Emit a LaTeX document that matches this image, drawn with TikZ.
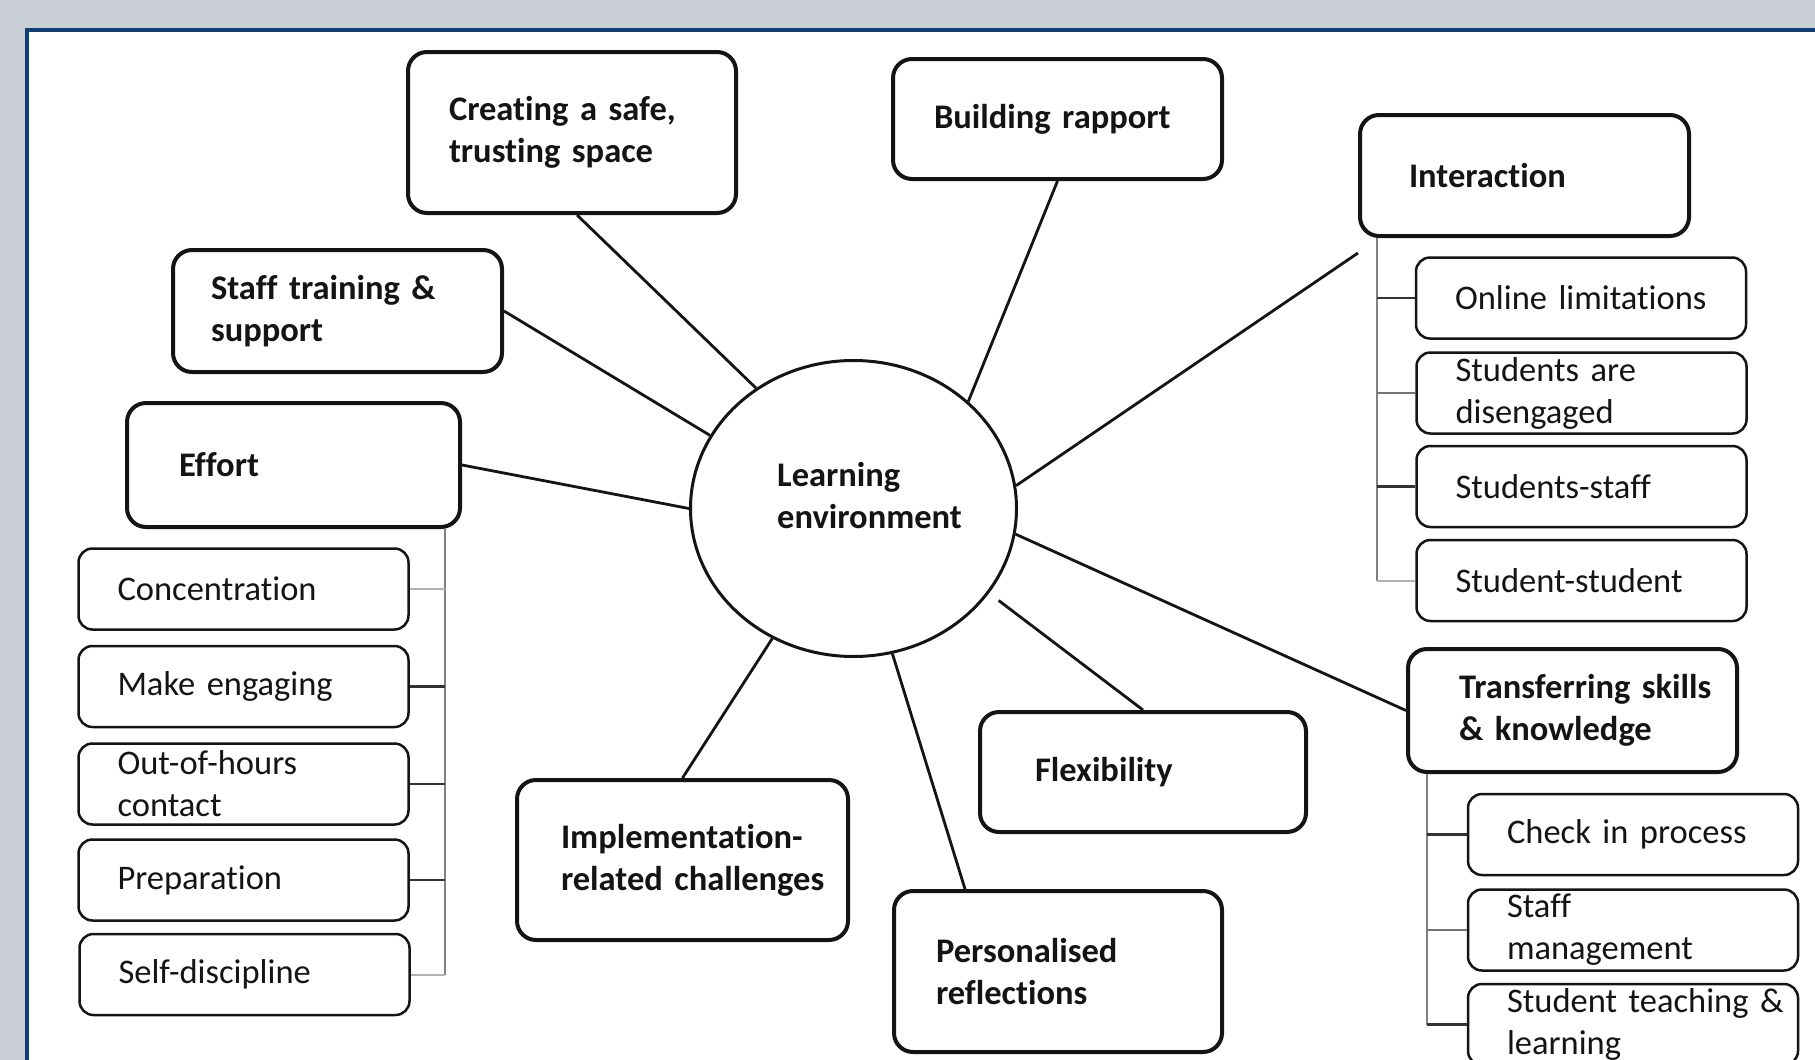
\documentclass[tikz,border=0pt]{standalone}
\usepackage{fontspec}
\setmainfont{Carlito}[Ligatures={NoCommon}]
\usetikzlibrary{shapes.geometric}

\definecolor{pagebg}{RGB}{203,207,215}
\definecolor{framebl}{RGB}{16,62,120}
\definecolor{ink}{RGB}{20,20,20}

\tikzset{
  % main themes: width, height, left padding, text width
  topic/.style n args={4}{draw=ink, line width=4pt, rounded corners=19pt,
    fill=white, text=ink, align=left, inner ysep=0pt,
    minimum width=#1pt, minimum height=#2pt, inner xsep=#3pt, text width=#4pt,
    font=\fontsize{34.5}{42}\selectfont\bfseries},
  % sub-themes hanging off a main theme
  leaf/.style={draw=ink, line width=2.5pt, rounded corners=14pt,
    fill=white, text=ink, align=left, inner ysep=0pt,
    minimum width=329pt, minimum height=81pt, inner xsep=39pt, text width=252pt,
    font=\fontsize{34.5}{42}\selectfont},
  hub/.style={ellipse, draw=ink, line width=3pt, fill=white, inner sep=0pt,
    minimum width=326pt, minimum height=296pt},
  link/.style={draw=ink, line width=2.8pt},
  bus/.style={draw=black!50, line width=2pt},
  twig/.style={draw=black!80, line width=2.5pt},
  twig mid/.style={draw=black!55, line width=2.2pt},
  twig light/.style={draw=black!30, line width=2pt},
}

\begin{document}
\begin{tikzpicture}[x=1pt, y=-1pt]
\useasboundingbox (0,0) rectangle (1815,1060);
\fill[pagebg] (0,0) rectangle (1815,1060);
\begin{scope}
  \clip (0,0) rectangle (1815,1060);
  \draw[framebl, line width=4.5pt, fill=white] (27,30) rectangle (1900,1150);
\end{scope}

% central theme
\node[hub] (le) at (853.5,508.5) {};
\node[anchor=west, inner sep=0pt, align=left, text=ink,
      font=\fontsize{34.5}{42}\selectfont\bfseries] (let) at (777,496)
      {Learning\\environment};

% main themes
\node[topic={328}{161}{41}{246}] (cs) at (572,132.5)
  {\mbox{Creating a safe,}\\\mbox{trusting space}};
\node[topic={329}{122}{38}{253}] (st) at (337.5,311)
  {\mbox{Staff training \&}\\support};
\node[topic={333}{124}{52}{229}] (ef) at (293.5,465) {Effort};
\node[topic={329}{120}{41}{247}] (br) at (1057.5,119) {\mbox{Building rapport}};
\node[topic={329}{121}{49}{231}] (ia) at (1524.5,175.5) {Interaction};
\node[topic={329}{123}{51}{227}] (ts) at (1572.5,710.5)
  {\mbox{Transferring skills}\\\mbox{\& knowledge}};
\node[topic={326}{120}{55}{216}] (fl) at (1143,772) {Flexibility};
\node[topic={328}{161}{42}{244}] (pr) at (1058,971.5)
  {Personalised\\reflections};
\node[topic={331}{160}{44}{243}] (im) at (682.5,860)
  {\mbox{Implementation-}\\\mbox{related challenges}};

% sub-themes of Effort
\node[leaf] (c1) at (243.5,589) {Concentration};
\node[leaf] (c2) at (243.5,686.5) {\mbox{Make engaging}};
\node[leaf] (c3) at (243.5,784) {Out-of-hours\\contact};
\node[leaf] (c4) at (243.5,880) {Preparation};
\node[leaf] (c5) at (244.5,974.5) {Self-discipline};

% sub-themes of Interaction
\node[leaf] (d1) at (1581,298) {\mbox{Online limitations}};
\node[leaf] (d2) at (1581.5,393) {\mbox{Students are}\\disengaged};
\node[leaf] (d3) at (1581.5,486.5) {Students-staff};
\node[leaf] (d4) at (1581.5,580.5) {Student-student};

% sub-themes of Transferring skills
\node[leaf] (e1) at (1633,834.5) {\mbox{Check in process}};
\node[leaf] (e2) at (1633,930) {Staff\\management};
\node[leaf] (e3) at (1633,1024.5) {\mbox{Student teaching \&}\\learning};

% spokes from the central theme
\draw[link] (le.129) -- ([xshift=5pt]cs.south);
\draw[link] (le.153) -- (st.east);
\draw[link] (le.180) -- (ef.east);
\draw[link] (le.43) -- (br.south);
\draw[link] (le.8) -- ([yshift=-15pt]ia.south west);
\draw[link] (le.-9) -- (ts.west);
\draw[link, shorten <=12pt] (le.-32) -- (fl.north);
\draw[link] (le.-75) -- ([xshift=73pt]pr.north west);
\draw[link] (le.-122) -- (im.north);

% tree under Effort
\coordinate (eb) at (445,0);
\draw[bus] (eb |- ef.south) -- (eb |- c5.east);
\draw[twig light] (c1.east) -- (c1.east -| eb);
\draw[twig] (c2.east) -- (c2.east -| eb);
\draw[twig] (c3.east) -- (c3.east -| eb);
\draw[twig] (c4.east) -- (c4.east -| eb);
\draw[twig light] (c5.east) -- (c5.east -| eb);

% tree under Interaction
\coordinate (ib) at (1377,0);
\draw[bus] (ib |- ia.south) -- (ib |- d4.west);
\draw[twig] (d1.west) -- (d1.west -| ib);
\draw[twig mid] (d2.west) -- (d2.west -| ib);
\draw[twig] (d3.west) -- (d3.west -| ib);
\draw[twig light] (d4.west) -- (d4.west -| ib);

% tree under Transferring skills
\coordinate (tb) at (1427,0);
\draw[bus] (tb |- ts.south) -- (tb |- e3.west);
\draw[twig] (e1.west) -- (e1.west -| tb);
\draw[twig mid] (e2.west) -- (e2.west -| tb);
\draw[twig] (e3.west) -- (e3.west -| tb);
\end{tikzpicture}
\end{document}
